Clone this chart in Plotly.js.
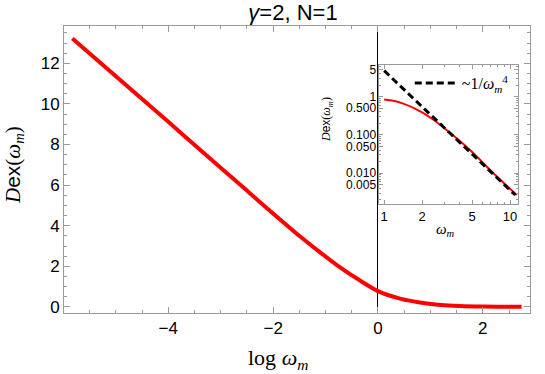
<!DOCTYPE html>
<html>
<head>
<meta charset="utf-8">
<script src="https://cdn.plot.ly/plotly-3.0.1.min.js"></script>
<style>
body { margin: 0; }
#chart-dex { width: 545px; height: 374px; }
</style>
</head>
<body>
<div id="chart-dex"></div>
<script>
//main curve (x = log w_m)
var logW = [-5.83, -5.5, -4.0, -3.4, -2.5, -2.2, -1.49, -1.11, -0.73, -0.35, 0, 0.42, 0.8, 1.2, 1.56, 2.0, 2.52, 2.74];
var dex = [13.22, 12.48, 9.12, 7.75, 5.73, 5.05, 3.48, 2.70, 1.96, 1.31, 0.78, 0.41, 0.22, 0.09, 0.04, 0.015, 0.005, 0.004];

//inset curve (log-log)
var insetW = [1, 1.19, 1.42, 1.71, 2.05, 2.46, 2.78, 4.81, 7.38, 11.3];
var insetD = [0.85, 0.78, 0.66, 0.51, 0.37, 0.25, 0.185, 0.0406, 0.0100, 0.00271];

//asymptote in the inset
var asymW = [1, 11.0];
var asymD = [4.78, 0.0027];

//inset tick labels
var insetXTicks = [1, 2, 5, 10];
var insetXText = ['1', '2', '5', '10'];
var insetYTicks = [0.005, 0.01, 0.05, 0.1, 0.5, 1, 5];
var insetYText = ['0.005', '0.010', '0.050', '0.100', '0.500', '1', '5'];

var frameGray = '#9a9a9a';
var sans = 'Liberation Sans, Arial, sans-serif';
var serif = 'Liberation Serif, Times New Roman, serif';

var traceMain = {
    x: logW,
    y: dex,
    type: 'scatter',
    mode: 'lines',
    showlegend: false,
    line: {width: 4, color: 'rgb(255, 0, 0)', shape: 'spline', smoothing: 0.8}
};

var traceInset = {
    x: insetW,
    y: insetD,
    xaxis: 'x2',
    yaxis: 'y2',
    type: 'scatter',
    mode: 'lines',
    showlegend: false,
    line: {width: 2, color: 'rgb(255, 0, 0)', shape: 'spline', smoothing: 1}
};

var traceAsym = {
    x: asymW,
    y: asymD,
    xaxis: 'x2',
    yaxis: 'y2',
    type: 'scatter',
    mode: 'lines',
    name: '~1/<i>ω</i><sub><i>m</i></sub><sup>4</sup>',
    line: {width: 3, color: 'black', dash: '7px,4px'}
};

var frameAxis = {
    showline: true,
    linecolor: frameGray,
    linewidth: 1,
    mirror: 'ticks',
    ticks: 'inside',
    tickcolor: frameGray,
    showgrid: false,
    fixedrange: true
};

var layout = {
    width: 545,
    height: 374,
    margin: {l: 64, r: 15, t: 26, b: 61},
    paper_bgcolor: 'white',
    plot_bgcolor: 'white',
    font: {family: sans, color: 'black'},
    title: {
        text: '<i>γ</i>=2, N=1',
        font: {family: sans, size: 22, color: 'black'},
        xref: 'container', yref: 'container',
        x: 293 / 545, xanchor: 'center',
        y: 1 - 12 / 374, yanchor: 'middle'
    },
    xaxis: Object.assign({}, frameAxis, {
        range: [-5.99, 2.9],
        tick0: 0, dtick: 2, ticklen: 6,
        minor: {dtick: 0.5, ticklen: 3, tickcolor: frameGray, ticks: 'inside'},
        tickfont: {size: 17, family: sans},
        zeroline: true, zerolinecolor: 'black', zerolinewidth: 1
    }),
    yaxis: Object.assign({}, frameAxis, {
        range: [-0.3, 13.84],
        tick0: 0, dtick: 2, ticklen: 6,
        minor: {dtick: 0.5, ticklen: 3, tickcolor: frameGray, ticks: 'inside'},
        tickfont: {size: 17, family: sans},
        zeroline: false
    }),
    xaxis2: Object.assign({}, frameAxis, {
        type: 'log',
        domain: [0.677, 0.975],
        anchor: 'y2',
        range: [-0.037, 1.066],
        tickvals: insetXTicks, ticktext: insetXText, ticklen: 4,
        minor: {dtick: 'D1', ticklen: 2, tickcolor: frameGray, ticks: 'inside'},
        tickfont: {size: 13, family: sans},
        zeroline: false
    }),
    yaxis2: Object.assign({}, frameAxis, {
        type: 'log',
        domain: [0.379, 0.864],
        anchor: 'x2',
        range: [-2.81, 0.828],
        tickvals: insetYTicks, ticktext: insetYText, ticklen: 4,
        minor: {dtick: 'D1', ticklen: 2, tickcolor: frameGray, ticks: 'inside'},
        tickfont: {size: 12, family: sans},
        zeroline: false
    }),
    showlegend: true,
    legend: {
        x: 0.742, xanchor: 'left',
        y: 0.86, yanchor: 'top',
        bgcolor: 'rgba(0,0,0,0)',
        font: {family: serif, size: 16, color: 'black'},
        itemwidth: 42
    },
    annotations: [
        {
            text: 'log <i>ω</i><sub><i>m</i></sub>',
            xref: 'paper', yref: 'paper',
            x: (278 - 64) / 466, y: (313 - 359) / 287,
            xanchor: 'center', yanchor: 'middle',
            showarrow: false,
            font: {family: serif, size: 22, color: 'black'}
        },
        {
            text: "<i>D</i><span style='font-family:Liberation Sans'>ex</span>(<i>ω</i><sub><i>m</i></sub>)",
            xref: 'paper', yref: 'paper',
            x: (14 - 64) / 466, y: (313 - 165) / 287,
            xanchor: 'center', yanchor: 'middle',
            textangle: -90,
            showarrow: false,
            font: {family: serif, size: 21, color: 'black'}
        },
        {
            text: '<i>ω</i><sub><i>m</i></sub>',
            xref: 'paper', yref: 'paper',
            x: (445 - 64) / 466, y: (313 - 230) / 287,
            xanchor: 'center', yanchor: 'middle',
            showarrow: false,
            font: {family: serif, size: 15, color: 'black'}
        },
        {
            text: "<i>D</i><span style='font-family:Liberation Sans'>ex</span>(<i>ω</i><sub><i>m</i></sub>)",
            xref: 'paper', yref: 'paper',
            x: (327 - 64) / 466, y: (313 - 120) / 287,
            xanchor: 'center', yanchor: 'middle',
            textangle: -90,
            showarrow: false,
            font: {family: serif, size: 12, color: 'black'}
        }
    ]
};

var data = [traceMain, traceInset, traceAsym];
Plotly.newPlot('chart-dex', data, layout, {displayModeBar: false, staticPlot: true});
</script>
</body>
</html>
